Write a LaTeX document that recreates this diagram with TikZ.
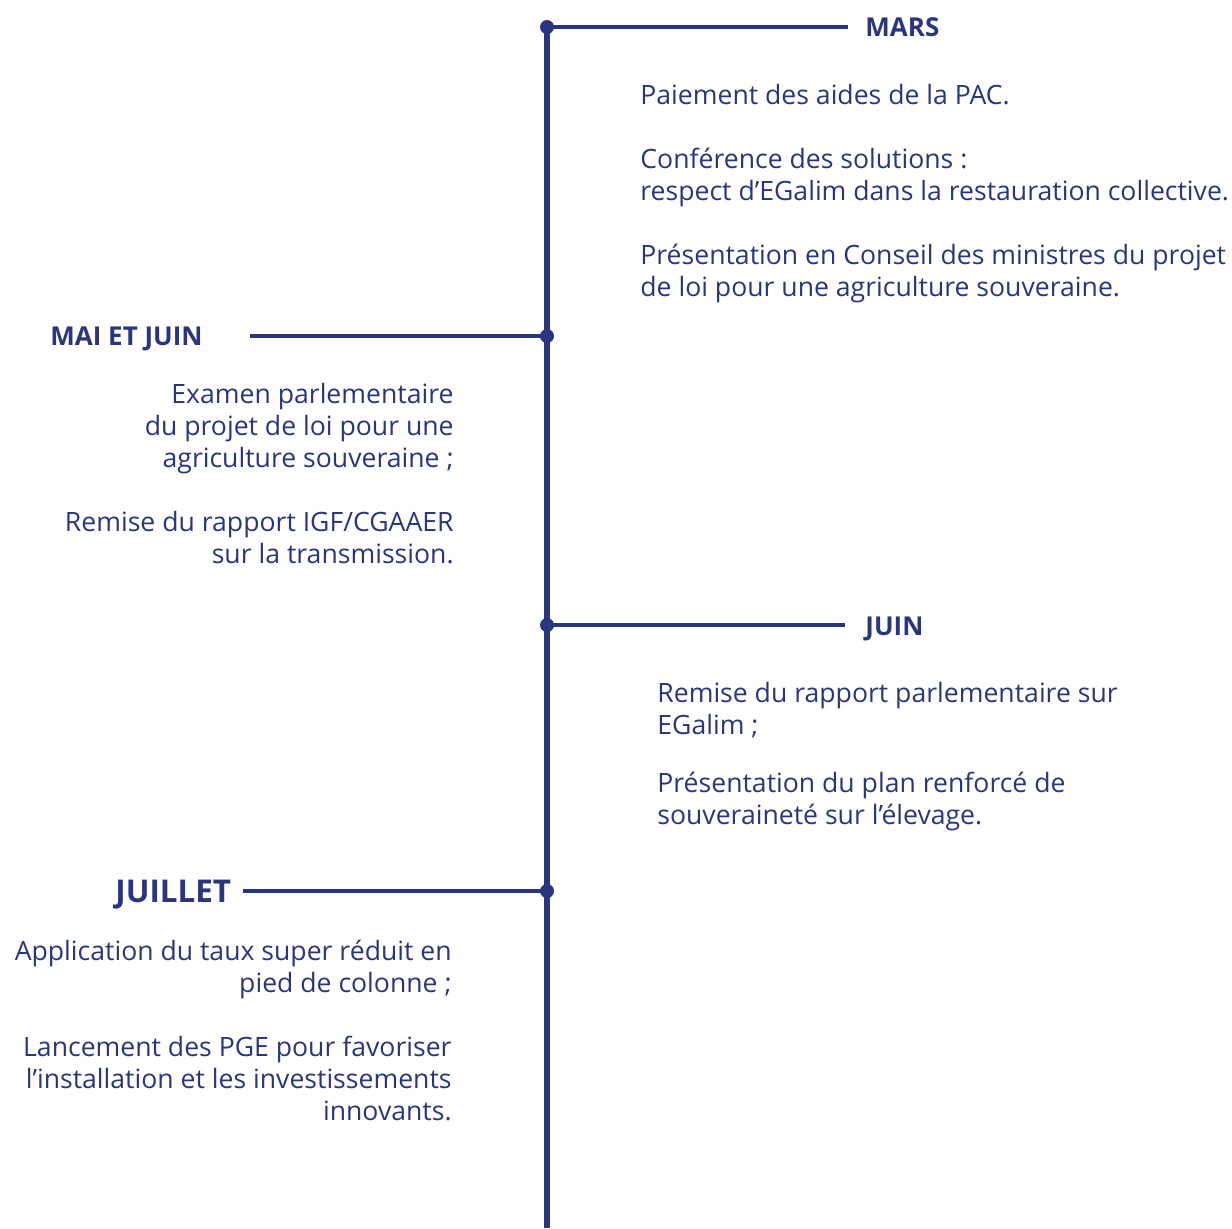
\documentclass[tikz,border=0pt]{standalone}
\usepackage{fontspec}
\setmainfont{Open Sans}[Ligatures = NoCommon]
\usetikzlibrary{positioning}
\definecolor{frise}{HTML}{2A3580}
\tikzset{
    month/.style = {font = \bfseries\fontsize{13}{15}\selectfont, text = frise, inner sep = 0pt},
    bigmonth/.style = {font = \bfseries\fontsize{15.7}{18}\selectfont, text = frise, inner sep = 0pt},
    event/.style = {font = \fontsize{13.3}{16}\selectfont, text = frise, inner sep = 0pt},
    axis/.style = {draw = frise, line width = 2.6pt},
    branch/.style = {draw = frise, line width = 2pt},
    dot/.style = {circle, fill = frise, inner sep = 0pt, minimum size = 7pt}
}

\begin{document}
\begin{tikzpicture}[x = 0.5pt, y = -0.5pt]
    \useasboundingbox (0, 0) rectangle (1232, 1228);

    % draw vertical line
    \coordinate (top) at (547, 27);
    \coordinate (bottom) at (547, 1228);
    \draw[axis] (top) -- (bottom);

    % draw MARS (last baselines given for multi-line nodes)
    \node[dot] (mars) at (547, 27) {};
    \coordinate (marsend) at (848, 27);
    \draw[branch] (mars.center) -- (marsend);
    \node[month, anchor = base west] (marslabel) at (865, 36) {MARS};

    \node[event, anchor = base west] (pac) at (640, 104) {Paiement des aides de la PAC.};
    \node[event, anchor = base west, align = left] (conf) at (640, 200)
        {Conférence des solutions :\\respect d’EGalim dans la restauration collective.};
    \node[event, anchor = base west, align = left] (conseil) at (640, 296)
        {Présentation en Conseil des ministres du projet\\de loi pour une agriculture souveraine.};

    % draw MAI ET JUIN
    \node[dot] (maijuin) at (547, 336) {};
    \coordinate (maijuinend) at (250, 336);
    \draw[branch] (maijuin.center) -- (maijuinend);
    \node[month, anchor = base west] (maijuinlabel) at (50, 345) {MAI ET JUIN};

    \node[event, anchor = base east, align = right] (examen) at (454, 467)
        {Examen parlementaire\\du projet de loi pour une\\agriculture souveraine ;};
    \node[event, anchor = base east, align = right] (igf) at (454, 563)
        {Remise du rapport IGF/CGAAER\\sur la transmission.};

    % draw JUIN
    \node[dot] (juin) at (547, 625) {};
    \coordinate (juinend) at (845, 625);
    \draw[branch] (juin.center) -- (juinend);
    \node[month, anchor = base west] (juinlabel) at (865, 635) {JUIN};

    \node[event, anchor = base west, align = left] (rapport) at (657, 734)
        {Remise du rapport parlementaire sur\\EGalim ;};
    \node[event, anchor = base west, align = left] (elevage) at (657, 824)
        {Présentation du plan renforcé de\\souveraineté sur l’élevage.};

    % draw JUILLET
    \node[dot] (juillet) at (547, 891) {};
    \coordinate (juilletend) at (243, 891);
    \draw[branch] (juillet.center) -- (juilletend);
    \node[bigmonth, anchor = base west] (juilletlabel) at (115, 902) {JUILLET};

    \node[event, anchor = base east, align = right] (taux) at (452, 992)
        {Application du taux super réduit en\\pied de colonne ;};
    \node[event, anchor = base east, align = right] (pge) at (452, 1120)
        {Lancement des PGE pour favoriser\\l’installation et les investissements\\innovants.};
\end{tikzpicture}
\end{document}
